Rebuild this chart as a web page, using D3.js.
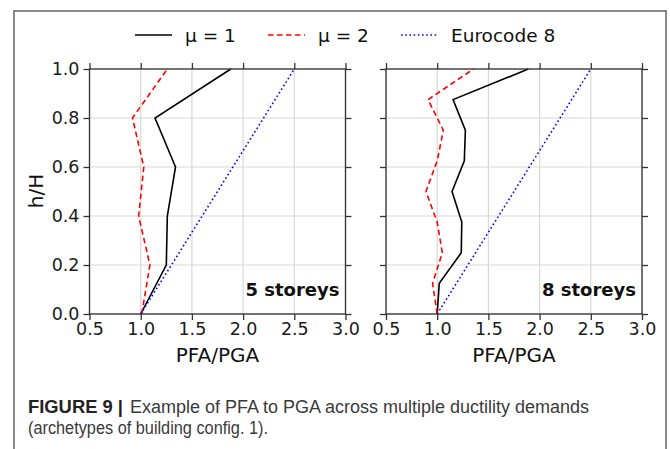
<!DOCTYPE html>
<html><head><meta charset="utf-8">
<script src="https://cdn.jsdelivr.net/npm/d3@7"></script>
<style>
body{margin:0;background:#fff;}
svg{display:block;}
</style></head>
<body>
<svg id="chart" width="670" height="449"></svg>
<script>
// ---- data ----
const xTicks = [0.5, 1.0, 1.5, 2.0, 2.5, 3.0];
const yTicks = [0.0, 0.2, 0.4, 0.6, 0.8, 1.0];
const seriesNames = ["μ = 1", "μ = 2", "Eurocode 8"];
const panelTitles = ["5 storeys", "8 storeys"];
const xLabel = "PFA/PGA";
const yLabel = "h/H";

// 5 storeys
const h5 = [0.0, 0.2, 0.4, 0.6, 0.8, 1.0];
const mu1_5 = [1.00, 1.25, 1.26, 1.34, 1.14, 1.88];
const mu2_5 = [1.01, 1.09, 0.98, 1.03, 0.92, 1.26];
const ec8_5 = [1.0, 1.3, 1.6, 1.9, 2.2, 2.5];

// 8 storeys
const h8 = [0.0, 0.125, 0.25, 0.375, 0.5, 0.625, 0.75, 0.875, 1.0];
const mu1_8 = [1.00, 1.02, 1.235, 1.24, 1.145, 1.265, 1.275, 1.155, 1.89];
const mu2_8 = [1.00, 0.955, 1.05, 1.00, 0.89, 1.00, 1.06, 0.91, 1.355];
const ec8_8 = [1.0, 1.1875, 1.375, 1.5625, 1.75, 1.9375, 2.125, 2.3125, 2.5];

const captionBold = "FIGURE 9 |";
const captionLine1 = "Example of PFA to PGA across multiple ductility demands";
const captionLine2 = "(archetypes of building config. 1).";

// ---- drawing ----
const svg = d3.select("#chart");
const styles = [
  {color:"#000000", dash:null, width:1.6},
  {color:"#ff0000", dash:"5.5,3.5", width:1.6},
  {color:"#0000ff", dash:"1.6,2.6", width:1.6}
];

// outer frame
svg.append("rect").attr("x",14).attr("y",11).attr("width",652).attr("height",460)
  .attr("fill","none").attr("stroke","#6b6b6b").attr("stroke-width",1.6);

const panels = [
  {x0:89.5, x1:345.5, h:h5, s:[mu1_5, mu2_5, ec8_5], title:panelTitles[0], yLabels:true},
  {x0:386, x1:642, h:h8, s:[mu1_8, mu2_8, ec8_8], title:panelTitles[1], yLabels:false}
];
const yTop = 69, yBot = 314;
const tickFont = "DejaVu Sans, sans-serif";

panels.forEach(p => {
  const x = d3.scaleLinear().domain([0.5, 3.0]).range([p.x0, p.x1]);
  const y = d3.scaleLinear().domain([0, 1]).range([yBot, yTop]);
  const g = svg.append("g");

  // grid
  g.append("g").selectAll("line.v").data(xTicks).join("line")
    .attr("x1", d=>x(d)).attr("x2", d=>x(d)).attr("y1", yTop).attr("y2", yBot)
    .attr("stroke","#d8d8d8").attr("stroke-width",1.2);
  g.append("g").selectAll("line.h").data(yTicks).join("line")
    .attr("x1", p.x0).attr("x2", p.x1).attr("y1", d=>y(d)).attr("y2", d=>y(d))
    .attr("stroke","#d8d8d8").attr("stroke-width",1.2);

  // lines
  const line = d3.line().x(d=>x(d[0])).y(d=>y(d[1]));
  p.s.forEach((vals, i) => {
    const pts = vals.map((v, k) => [v, p.h[k]]);
    g.append("path").datum(pts).attr("d", line)
      .attr("fill","none").attr("stroke", styles[i].color)
      .attr("stroke-width", styles[i].width)
      .attr("stroke-dasharray", styles[i].dash)
      .attr("stroke-linejoin","miter");
  });

  // axes
  const axColor = "#333333";
  const styleAxis = (sel, showLabels) => {
    sel.select(".domain").remove();
    sel.selectAll(".tick line").attr("stroke", axColor).attr("stroke-width",1.3);
    sel.selectAll(".tick text").attr("fill","#1a1a1a")
      .style("font-family", tickFont).style("font-size","17.5px");
    if (!showLabels) sel.selectAll(".tick text").remove();
  };
  const fmt = d3.format(".1f");
  g.append("g").attr("transform",`translate(0,${yBot})`)
    .call(d3.axisBottom(x).tickValues(xTicks).tickFormat(fmt).tickSize(6).tickPadding(3).tickSizeOuter(0))
    .call(s=>styleAxis(s,true));
  g.append("g").attr("transform",`translate(0,${yTop})`)
    .call(d3.axisTop(x).tickValues(xTicks).tickSize(6).tickSizeOuter(0))
    .call(s=>styleAxis(s,false));
  g.append("g").attr("transform",`translate(${p.x0},0)`)
    .call(d3.axisLeft(y).tickValues(yTicks).tickFormat(fmt).tickSize(6).tickPadding(4).tickSizeOuter(0))
    .call(s=>styleAxis(s,p.yLabels));
  g.append("g").attr("transform",`translate(${p.x1},0)`)
    .call(d3.axisRight(y).tickValues(yTicks).tickSize(6).tickSizeOuter(0))
    .call(s=>styleAxis(s,false));

  // spines
  g.append("rect").attr("x",p.x0).attr("y",yTop).attr("width",p.x1-p.x0).attr("height",yBot-yTop)
    .attr("fill","none").attr("stroke",axColor).attr("stroke-width",1.3);

  // panel title
  g.append("text").attr("x", p.x1-6).attr("y", 296).attr("text-anchor","end")
    .style("font-family", tickFont).style("font-weight","bold").style("font-size","18px")
    .attr("fill","#111").text(p.title);

  // x label
  g.append("text").attr("x",(p.x0+p.x1)/2).attr("y",362).attr("text-anchor","middle")
    .style("font-family", tickFont).style("font-size","20px").attr("fill","#111").text(xLabel);
});

// y label
svg.append("text").attr("transform","translate(43,191) rotate(-90)").attr("text-anchor","middle")
  .style("font-family", tickFont).style("font-size","20px").attr("fill","#111").text(yLabel);

// legend
const legX = [135, 268, 401];
const legG = svg.append("g");
seriesNames.forEach((name, i) => {
  legG.append("line").attr("x1", legX[i]).attr("x2", legX[i]+37).attr("y1",35).attr("y2",35)
    .attr("stroke", styles[i].color).attr("stroke-width", styles[i].width)
    .attr("stroke-dasharray", styles[i].dash);
  legG.append("text").attr("x", legX[i]+50).attr("y", 42)
    .style("font-family", tickFont).style("font-size","18.5px").attr("fill","#111").text(name);
});

// caption
const capFont = "Liberation Sans, Arial, sans-serif";
svg.append("text").attr("x",28).attr("y",413)
  .style("font-family",capFont).style("font-size","17.5px").style("font-weight","bold").attr("fill","#222")
  .attr("textLength",95).attr("lengthAdjust","spacingAndGlyphs")
  .text(captionBold);
svg.append("text").attr("x",130).attr("y",413)
  .style("font-family",capFont).style("font-size","17.5px").attr("fill","#3a3a3a")
  .attr("textLength",459).attr("lengthAdjust","spacingAndGlyphs")
  .text(captionLine1);
svg.append("text").attr("x",28).attr("y",434)
  .style("font-family",capFont).style("font-size","17.5px").attr("fill","#3a3a3a")
  .attr("textLength",240).attr("lengthAdjust","spacingAndGlyphs")
  .text(captionLine2);
</script>
</body></html>
